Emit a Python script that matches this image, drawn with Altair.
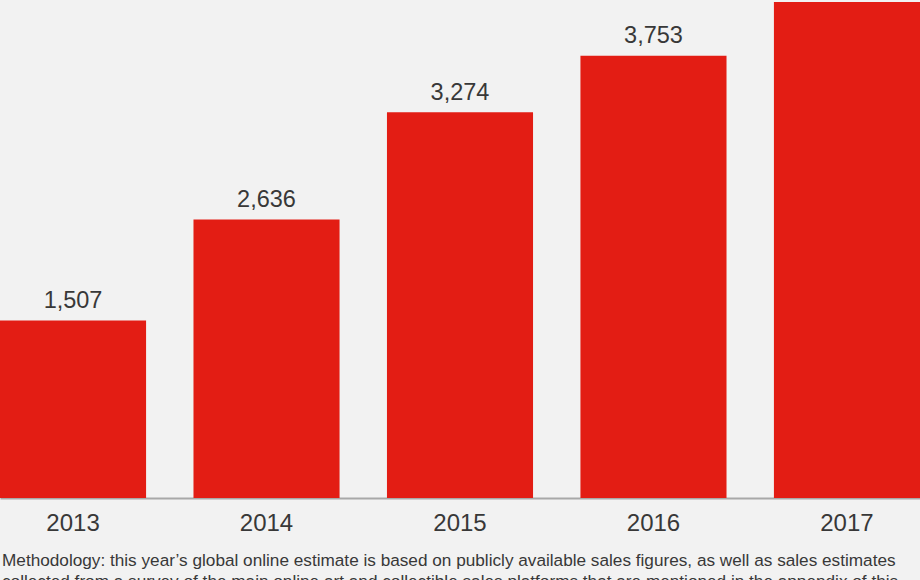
import altair as alt
import pandas as pd

# Values
years = ["2013", "2014", "2015", "2016", "2017"]
bar_heights = [1507, 2364, 3274, 3753, 4210]   # heights of the drawn bars
value_labels = ["1,507", "2,636", "3,274", "3,753", ""]  # 2017 label lies above the visible frame
note_lines = [
    "Methodology: this year\u2019s global online estimate is based on publicly available sales figures, as well as sales estimates",
    "collected from a survey of the main online art and collectible sales platforms that are mentioned in the appendix of this",
]

RED = "#e31d14"
TEXT = "#383838"
FONT = "Liberation Sans"

df = pd.DataFrame({"year": years, "value": bar_heights, "label": value_labels})

x = alt.X("year:N", title=None,
          scale=alt.Scale(paddingInner=0.245, paddingOuter=0),
          axis=alt.Axis(labelAngle=0, ticks=False, tickSize=0, labelPadding=32,
                        labelFontSize=24, labelColor=TEXT, labelFont=FONT,
                        labelBaseline="alphabetic",
                        domainColor="#a8a8a8", domainWidth=2, grid=False))
y = alt.Y("value:Q", title=None,
          scale=alt.Scale(domain=[0, 4227], nice=False, zero=True),
          axis=None)

bars = alt.Chart(df).mark_bar(color=RED).encode(x=x, y=y)

labels = alt.Chart(df).mark_text(
    baseline="alphabetic", dy=-12.5, fontSize=23.5, color=TEXT, font=FONT
).encode(x=alt.X("year:N"), y=y, text="label:N")

note_layers = []
for i, line in enumerate(note_lines):
    note_layers.append(
        alt.Chart(pd.DataFrame({"line": [line]})).mark_text(
            align="left", baseline="alphabetic", fontSize=17.2, color=TEXT, font=FONT
        ).encode(x=alt.value(2), y=alt.value(566 + 21 * i), text="line:N")
    )

chart = alt.layer(bars, labels, *note_layers).properties(
    width=920, height=498,
    autosize=alt.AutoSizeParams(type="none"),
    padding={"left": 0, "right": 0, "top": 0, "bottom": 82},
    background="#f2f2f2",
).configure_view(stroke=None)

chart.save("out.html", embed_options={"renderer": "svg", "actions": False})
